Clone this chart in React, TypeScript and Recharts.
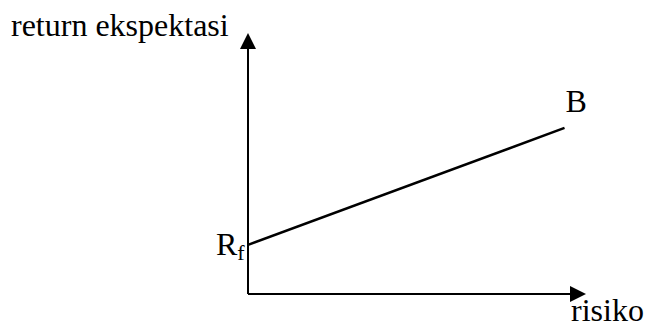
import { Line, LineChart, XAxis, YAxis } from "recharts"

// risiko (x) and return ekspektasi (y) for the two ends of the line
const risiko = [0, 98]
const returnEkspektasi = [20, 67.5]
const pointNames = ["Rf", "B"]

const data = risiko.map((r, i) => ({ risiko: r, ret: returnEkspektasi[i], name: pointNames[i] }))

const font = "'Liberation Serif', 'Times New Roman', serif"

function PointLabel(props: any) {
  const { x, y, index } = props
  if (index === 0) {
    return (
      <text x={x - 32} y={y + 10} fontFamily={font} fontSize={32} fill="#000">
        R<tspan fontSize={22} dy={5}>f</tspan>
      </text>
    )
  }
  return (
    <text x={x + 1} y={y - 16} fontFamily={font} fontSize={32} fill="#000">
      {pointNames[index]}
    </text>
  )
}

export default function App() {
  return (
    <div style={{ position: "absolute", left: 0, top: 0, background: "#fff" }}>
      <LineChart width={648} height={329} data={data} margin={{ top: 48, right: 77, bottom: 34, left: 247 }}>
        <defs>
          <marker id="arrow" viewBox="0 0 16 16" refX={1} refY={8} markerWidth={16} markerHeight={16} markerUnits="userSpaceOnUse" orient="auto-start-reverse">
            <path d="M0,0 L16,8 L0,16 z" fill="#000" />
          </marker>
        </defs>
        <XAxis type="number" dataKey="risiko" domain={[0, 100]} height={1} tick={false} tickLine={false}
          axisLine={{ stroke: "#000", strokeWidth: 2, markerEnd: "url(#arrow)" } as any} />
        <YAxis type="number" dataKey="ret" domain={[0, 100]} width={1} tick={false} tickLine={false}
          axisLine={{ stroke: "#000", strokeWidth: 2, markerStart: "url(#arrow)" } as any} />
        <Line type="linear" dataKey="ret" stroke="#000" strokeWidth={2.5} dot={false} isAnimationActive={false} label={<PointLabel />} />
        <text x={11} y={36} fontFamily={font} fontSize={32} fill="#000">return ekspektasi</text>
        <text x={571} y={321} fontFamily={font} fontSize={32} fill="#000">risiko</text>
      </LineChart>
    </div>
  )
}
